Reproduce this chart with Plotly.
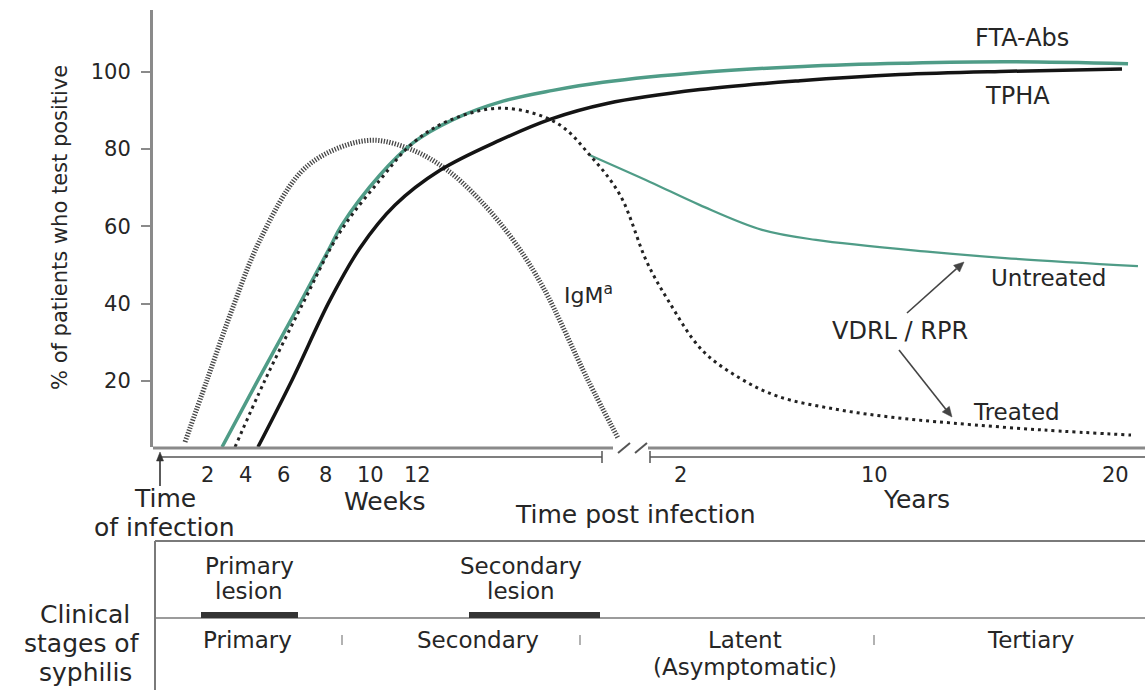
import math
import plotly.graph_objects as go

W, H = 1145, 690
FONT = "DejaVu Sans"
TXT = "#262626"
AX = "#8a8a8a"

# ---- data (schematic time position 0-100 along the time axis, % positive) ----
fta_t = [6.96, 10.58, 14.82, 17.84, 18.95, 22.88, 26.21, 30.14, 35.28, 40.32, 45.36, 55.44, 65.52, 75.60, 85.69, 98.29]
fta_y = [2.9, 20.2, 40.1, 54.6, 60.0, 73.3, 81.6, 87.5, 92.4, 95.2, 97.3, 99.9, 101.4, 102.2, 102.6, 102.1]

tpha_t = [10.58, 14.01, 17.84, 20.87, 24.40, 28.93, 34.98, 40.02, 45.77, 55.14, 65.22, 75.30, 85.38, 97.68]
tpha_y = [2.9, 20.2, 40.9, 54.4, 65.5, 74.5, 82.3, 87.7, 91.8, 95.4, 97.7, 99.3, 100.1, 100.7]

vdrl_t = [8.27, 11.29, 15.12, 18.85, 22.88, 26.21, 29.94, 35.28, 40.73, 44.05, 47.08, 49.80, 51.92, 55.34, 59.17, 63.00, 68.75, 74.50, 80.54, 89.72, 98.59]
vdrl_y = [2.9, 20.2, 40.1, 58.5, 72.0, 81.6, 87.5, 90.6, 86.7, 78.4, 68.1, 50.7, 40.9, 28.0, 20.7, 16.0, 12.7, 10.6, 9.1, 7.3, 6.0]

untr_t = [44.05, 50.10, 55.14, 61.39, 66.83, 78.33, 85.89, 99.29]
untr_y = [78.4, 71.5, 65.5, 59.1, 56.5, 53.4, 51.8, 49.7]

igm_t = [3.23, 5.44, 7.96, 10.79, 14.82, 18.15, 22.18, 26.21, 29.64, 32.96, 36.29, 39.31, 43.85, 46.88]
igm_y = [4.2, 20.2, 38.4, 56.5, 73.8, 79.7, 82.3, 79.7, 74.6, 66.8, 56.5, 44.3, 20.2, 5.2]

y_ticks = [20, 40, 60, 80, 100]
week_labels = ["2", "4", "6", "8", "10", "12"]
year_labels = ["2", "10", "20"]
stage_labels = ["Primary", "Secondary", "Latent<br>(Asymptomatic)", "Tertiary"]


def PX(px):
    return px / W


def PY(py):
    return 1 - py / H


fig = go.Figure()

fig.add_trace(go.Scatter(x=igm_t, y=igm_y, mode="lines", line=dict(color="#474747", width=5, dash="1.3px,1.5px", shape="spline", smoothing=1.0), hoverinfo="skip"))
fig.add_trace(go.Scatter(x=tpha_t, y=tpha_y, mode="lines", line=dict(color="#141414", width=3.5, shape="spline", smoothing=1.0), hoverinfo="skip"))
fig.add_trace(go.Scatter(x=fta_t, y=fta_y, mode="lines", line=dict(color="#4f9c87", width=3.5, shape="spline", smoothing=1.0), hoverinfo="skip"))
fig.add_trace(go.Scatter(x=untr_t, y=untr_y, mode="lines", line=dict(color="#4f9c87", width=2.2, shape="spline", smoothing=1.0), hoverinfo="skip"))
fig.add_trace(go.Scatter(x=vdrl_t, y=vdrl_y, mode="lines", line=dict(color="#222222", width=3, dash="3px,4px", shape="spline", smoothing=1.0), hoverinfo="skip"))

shapes = []
ann = []

def line(x0, y0, x1, y1, color, width):
    shapes.append(dict(type="line", xref="paper", yref="paper", x0=PX(x0), y0=PY(y0), x1=PX(x1), y1=PY(y1),
                       line=dict(color=color, width=width)))

def text(s, x, y, size, color=TXT):
    ann.append(dict(text=s, xref="paper", yref="paper", x=PX(x), y=PY(y), showarrow=False,
                    xanchor="center", yanchor="middle", font=dict(family=FONT, size=size, color=color)))

def arrow(x0, y0, x1, y1, color, width=1.6, hl=10, hw=4.5):
    # line from tail (x0, y0) to head (x1, y1) with a filled triangular head
    dx, dy = x1 - x0, y1 - y0
    L = math.hypot(dx, dy)
    ux, uy = dx / L, dy / L
    bx, by = x1 - ux * hl, y1 - uy * hl
    line(x0, y0, bx, by, color, width)
    p1 = (bx - uy * hw, by + ux * hw)
    p2 = (bx + uy * hw, by - ux * hw)
    path = "M {} {} L {} {} L {} {} Z".format(PX(x1), PY(y1), PX(p1[0]), PY(p1[1]), PX(p2[0]), PY(p2[1]))
    shapes.append(dict(type="path", xref="paper", yref="paper", path=path, fillcolor=color,
                       line=dict(color=color, width=0.5)))

# x axis main line (broken) and break marks
line(153, 448, 613, 448, AX, 3)
line(648, 448, 1145, 448, AX, 3)
line(618, 453, 630, 443, "#555555", 2)
line(635, 453, 647, 443, "#555555", 2)
# time scale line
line(160, 457, 602, 457, "#555555", 1.5)
line(650, 457, 1145, 457, "#555555", 1.5)
line(602, 451, 602, 463, "#555555", 1.5)
line(650, 451, 650, 463, "#555555", 1.5)

# time of infection arrow
arrow(160, 486, 160, 452, "#333333", width=1.6, hl=9, hw=3.5)

# tick labels on the time axis
week_px = [207, 245, 283, 325, 370, 417]
for lab, px in zip(week_labels, week_px):
    text(lab, px, 475, 21)
year_px = [680, 874, 1115]
for lab, px in zip(year_labels, year_px):
    text(lab, px, 475, 21)

text("Weeks", 385, 501, 25)
text("Years", 916, 499, 25)
text("Time post infection", 635, 514, 25)
text("Time", 165, 498, 25)
text("of infection", 164, 527, 25)

# curve labels
text("FTA-Abs", 1022, 38, 24)
text("TPHA", 1017, 96, 24)
text("IgM<sup>a</sup>", 588, 294, 22)
text("Untreated", 1048, 278, 23)
text("VDRL / RPR", 900, 331, 24)
text("Treated", 1016, 412, 23)

# VDRL arrows
arrow(907, 313, 964, 262, "#444444")
arrow(899, 350, 952, 417, "#444444")

# clinical stages table
line(155, 541, 1145, 541, "#7a7a7a", 2)
line(155, 618, 1145, 618, "#7a7a7a", 1.5)
line(155, 541, 155, 690, "#7a7a7a", 2)
shapes.append(dict(type="rect", xref="paper", yref="paper", x0=PX(201), x1=PX(298), y0=PY(618), y1=PY(612),
                   fillcolor="#333333", line=dict(width=0)))
shapes.append(dict(type="rect", xref="paper", yref="paper", x0=PX(469), x1=PX(600), y0=PY(618), y1=PY(612),
                   fillcolor="#333333", line=dict(width=0)))

text("Primary", 249, 566, 23)
text("lesion", 249, 591, 23)
text("Secondary", 521, 566, 23)
text("lesion", 521, 591, 23)

text("Clinical", 85, 614, 25)
text("stages of", 82, 643, 25)
text("syphilis", 85, 672, 25)

stage_px = [247, 478, 745, 1030]
for lab, px in zip(stage_labels, stage_px):
    if "<br>" in lab:
        a, b = lab.split("<br>")
        text(a, px, 640, 23)
        text(b, px, 667, 23)
    else:
        text(lab, px, 640, 23)

for px in [342, 580, 874]:
    line(px, 635, px, 645, "#999999", 1.5)

# y axis title
ann.append(dict(text="% of patients who test positive", xref="paper", yref="paper", x=PX(60), y=PY(228),
                showarrow=False, textangle=-90, xanchor="center", yanchor="middle",
                font=dict(family=FONT, size=21, color=TXT)))

fig.update_layout(
    width=W, height=H, margin=dict(l=0, r=0, t=0, b=0),
    paper_bgcolor="white", plot_bgcolor="white", showlegend=False,
    xaxis=dict(domain=[153 / W, 1], range=[0, 100], visible=False, fixedrange=True),
    yaxis=dict(domain=[1 - 447 / H, 1 - 10 / H], range=[2.9, 116], tickvals=y_ticks,
               ticktext=[str(v) for v in y_ticks], ticks="outside", ticklen=9, tickwidth=2,
               tickcolor=AX, showline=True, linecolor=AX, linewidth=3, showgrid=False,
               zeroline=False, ticklabelstandoff=6, fixedrange=True,
               tickfont=dict(family=FONT, size=21, color=TXT)),
    shapes=shapes, annotations=ann,
)

fig.write_html("out.html", config={"displayModeBar": False},
               post_script="document.body.style.margin='0px';document.body.style.overflow='hidden';")
